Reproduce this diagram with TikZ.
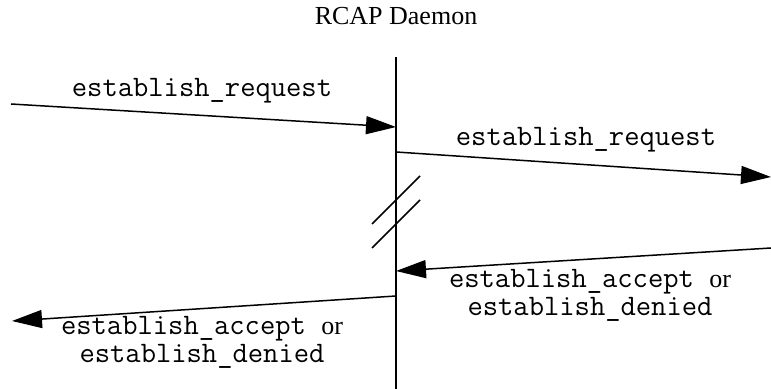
\documentclass[tikz,border=0pt]{standalone}
\usepackage{fontspec}
\setmainfont{Liberation Serif}
\usetikzlibrary{arrows.meta}
\newcommand{\orword}{{\fontsize{13}{14}\selectfont\rmfamily or}}
\tikzset{
    every node/.style={inner sep=0pt, font=\fontsize{13}{13}\selectfont},
    msg/.style={line width=0.75pt, -{Triangle[length=15pt,width=9pt]}},
    lbl/.style={anchor=base, align=center, font=\fontsize{14.86}{14}\selectfont\ttfamily}
}

\begin{document}
\begin{tikzpicture}[x=0.5pt, y=-0.5pt]
  \useasboundingbox (0,0) rectangle (771,389);
  \node (daemon) at (396,16) {RCAP Daemon};
  \coordinate (top) at (396,57);
  \coordinate (bot) at (396,389);

  \coordinate (l1) at (11,104);
  \coordinate (d1) at (396,127);
  \coordinate (d2) at (396,152);
  \coordinate (r2) at (771,177);
  \coordinate (r3) at (771,248);
  \coordinate (d3) at (396,271);
  \coordinate (d4) at (396,296);
  \coordinate (l4) at (12,321);

  \coordinate (b1) at (372,224);
  \coordinate (b2) at (420,176);
  \coordinate (b3) at (372,248);
  \coordinate (b4) at (420,200);

  \node (req1) [lbl] at (202,97) {establish\_request};
  \node (req2) [lbl] at (586,146) {establish\_request};
  \node (ans3) [lbl] at (590,316) {establish\_accept \orword\\establish\_denied};
  \node (ans4) [lbl] at (202,363) {establish\_accept \orword\\establish\_denied};

  \draw [line width=0.75pt] (top) -- (bot);
  \draw [line width=0.75pt] (b1) -- (b2);
  \draw [line width=0.75pt] (b3) -- (b4);

  \draw [msg] (l1) -- (d1);
  \draw [msg] (d2) -- (r2);
  \draw [msg] (r3) -- (d3);
  \draw [msg] (d4) -- (l4);
\end{tikzpicture}
\end{document}
